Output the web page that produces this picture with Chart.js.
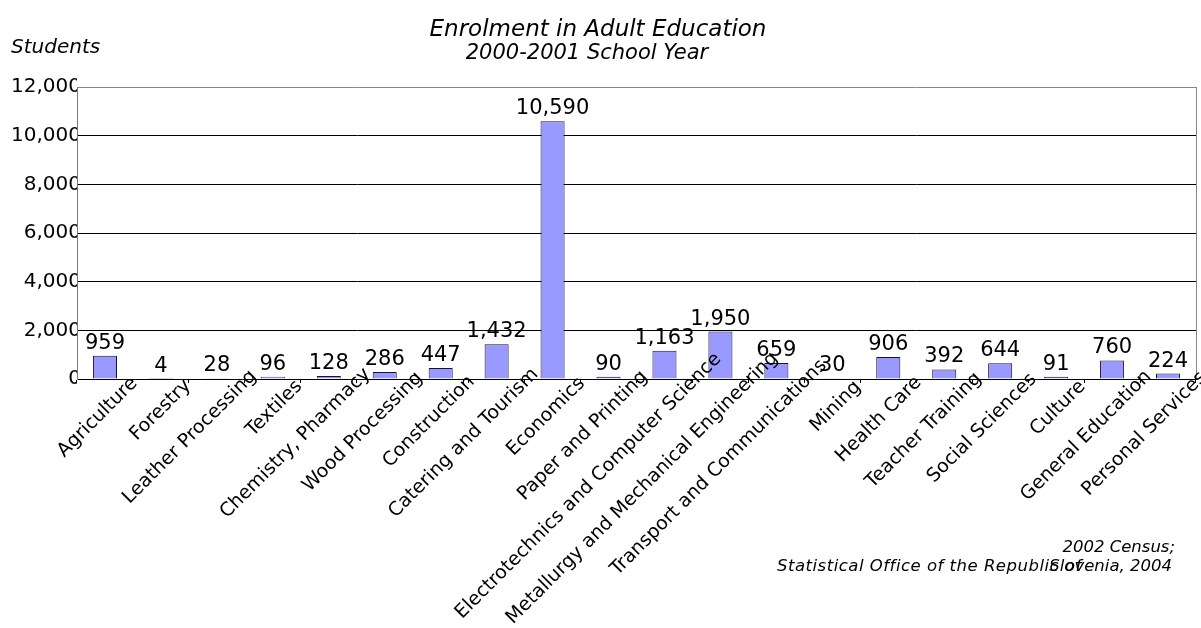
<!DOCTYPE html>
<html>
<head>
<meta charset="utf-8">
<script src="https://cdn.jsdelivr.net/npm/chart.js@4/dist/chart.umd.min.js"></script>
<style>
  html, body { margin: 0; padding: 0; background: #fff; }
  #wrap { width: 1201px; height: 628px; }
</style>
</head>
<body>
<div id="wrap"><canvas id="canvas" width="1201" height="628"></canvas></div>
<script>
// Fields of study
const labels = [
  'Agriculture', 'Forestry', 'Leather Processing', 'Textiles', 'Chemistry, Pharmacy',
  'Wood Processing', 'Construction', 'Catering and Tourism', 'Economics', 'Paper and Printing',
  'Electrotechnics and Computer Science', 'Metallurgy and Mechanical Engineering',
  'Transport and Communications', 'Mining', 'Health Care', 'Teacher Training',
  'Social Sciences', 'Culture', 'General Education', 'Personal Services'
];

// Number of students enrolled
const students = [959, 4, 28, 96, 128, 286, 447, 1432, 10590, 90,
  1163, 1950, 659, 30, 906, 392, 644, 91, 760, 224];

// Y axis ticks
const yTicks = [0, 2000, 4000, 6000, 8000, 10000, 12000];

const titleText = 'Enrolment in Adult Education';
const subtitleText = '2000-2001 School Year';
const yAxisTitle = 'Students';
const sourceLine1 = '2002 Census;';
const sourceLine2a = 'Statistical Office of the Republic of';
const sourceLine2b = 'Slovenia, 2004';

const FONT = '"DejaVu Sans", Verdana, sans-serif';
const fmt = v => v.toLocaleString('en-US');

// Texts, data labels, rotated category labels and frame
const extras = {
  id: 'extras',
  afterDatasetsDraw(chart) {
    const ctx = chart.ctx;
    const meta = chart.getDatasetMeta(0);
    ctx.save();
    ctx.fillStyle = '#000';
    ctx.font = '21px ' + FONT;
    ctx.textAlign = 'center';
    ctx.textBaseline = 'bottom';
    meta.data.forEach((bar, i) => {
      ctx.fillText(fmt(students[i]), bar.x, bar.y - 2);
    });
    ctx.restore();
  },
  afterDraw(chart) {
    const ctx = chart.ctx;
    const a = chart.chartArea;
    const xs = chart.scales.x;
    ctx.save();
    // right frame line
    ctx.strokeStyle = '#888';
    ctx.lineWidth = 1;
    ctx.beginPath();
    ctx.moveTo(a.right + 0.5, a.top);
    ctx.lineTo(a.right + 0.5, a.bottom);
    ctx.stroke();

    // category labels, 45 degrees, slid up along their direction like the original
    ctx.fillStyle = '#000';
    ctx.font = '19px ' + FONT;
    ctx.textAlign = 'right';
    ctx.textBaseline = 'middle';
    labels.forEach((lab, i) => {
      const w = ctx.measureText(lab).width;
      ctx.save();
      ctx.translate(xs.getPixelForTick(i) + 20, xs.top + 11);
      ctx.rotate(-Math.PI / 4);
      ctx.fillText(lab, 0.13 * w, 0);
      ctx.restore();
    });

    ctx.textAlign = 'center';
    ctx.font = 'italic 23px ' + FONT;
    ctx.fillText(titleText, 598, 30);
    ctx.font = 'italic 21px ' + FONT;
    ctx.fillText(subtitleText, 587, 54);

    ctx.textAlign = 'left';
    ctx.font = 'italic 20px ' + FONT;
    ctx.fillText(yAxisTitle, 11, 48);

    ctx.font = 'italic 16.5px ' + FONT;
    ctx.textAlign = 'right';
    ctx.fillText(sourceLine1, 1175, 548);
    ctx.textAlign = 'left';
    ctx.letterSpacing = '0.5px';
    ctx.fillText(sourceLine2a, 777, 567);
    ctx.letterSpacing = '0px';
    ctx.textAlign = 'right';
    ctx.fillText(sourceLine2b, 1172, 567);
    ctx.restore();
  }
};

const data = {
  labels: labels,
  datasets: [{
    label: 'Students',
    data: students,
    backgroundColor: '#9999FF',
    borderColor: '#14142e',
    borderWidth: 1,
    barPercentage: 0.43,
    categoryPercentage: 1.0
  }]
};

const config = {
  type: 'bar',
  data: data,
  plugins: [extras],
  options: {
    responsive: false,
    animation: false,
    layout: { padding: { top: 87, right: 5, left: 0, bottom: 0 } },
    plugins: {
      legend: { display: false },
      tooltip: { enabled: false }
    },
    scales: {
      x: {
        grid: {
          display: true,
          offset: true,
          drawOnChartArea: false,
          drawTicks: true,
          tickLength: 4,
          color: '#000'
        },
        border: { color: '#000', width: 1 },
        ticks: { display: false, autoSkip: false },
        afterFit(scale) { scale.height = 249; }
      },
      y: {
        min: 0,
        max: 12000,
        afterBuildTicks(scale) { scale.ticks = yTicks.map(v => ({ value: v })); },
        grid: {
          drawTicks: false,
          color: ctx => (ctx.tick && ctx.tick.value === 12000) ? '#888' : '#000',
          lineWidth: 1
        },
        border: { color: '#777', width: 1 },
        ticks: {
          padding: -4,
          color: '#000',
          font: { family: FONT, size: 20 },
          callback: v => fmt(v)
        },
        afterFit(scale) { scale.width = 77; }
      }
    }
  }
};

const canvas = document.getElementById('canvas');
const chart = new Chart(canvas, config);
</script>
</body>
</html>
